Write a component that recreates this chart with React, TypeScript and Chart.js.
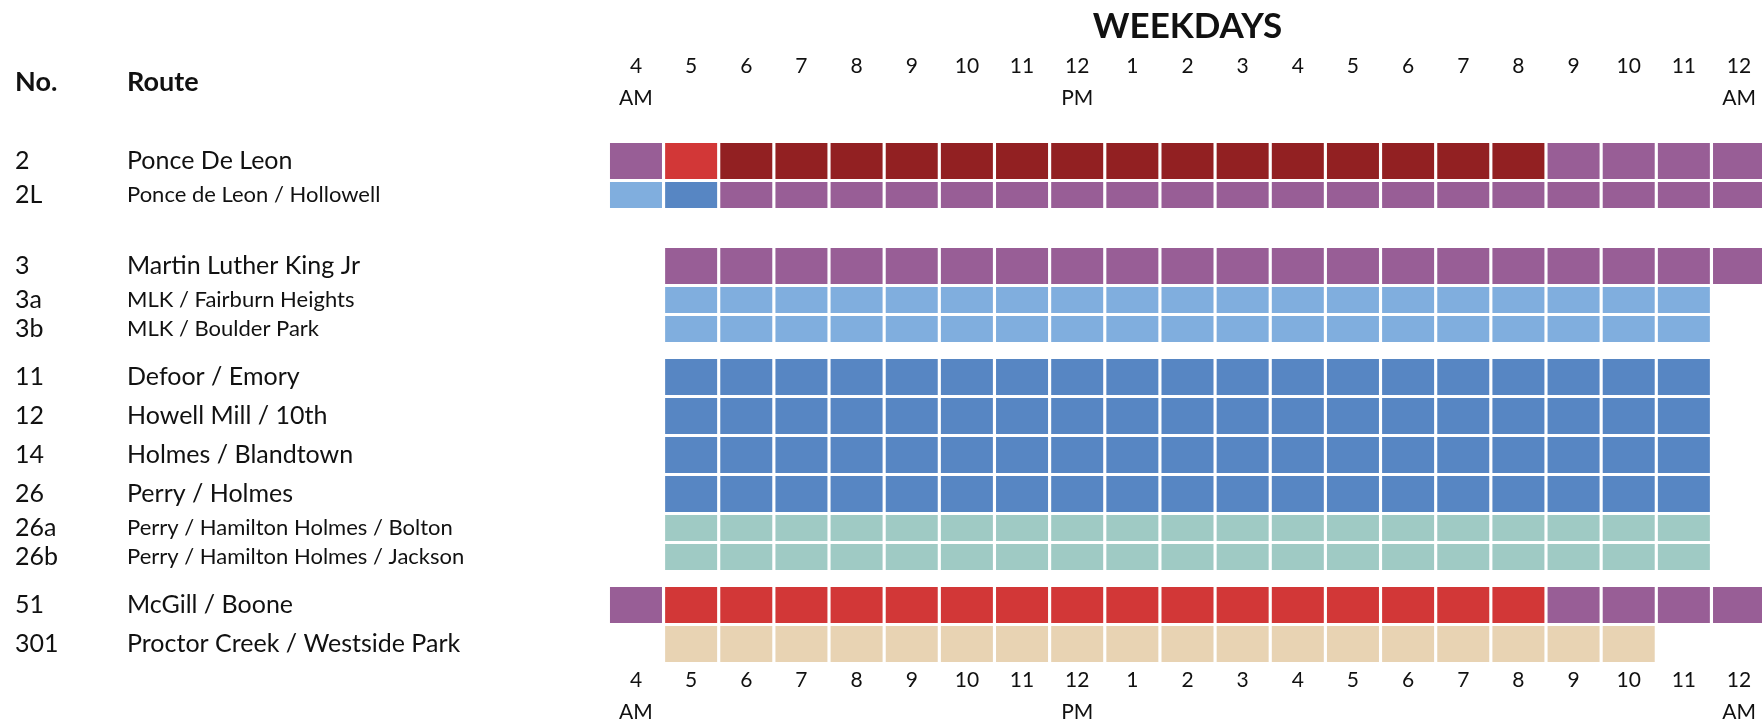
import React, { useEffect, useRef } from "react";
import { Chart, registerables } from "chart.js";

Chart.register(...registerables);

// ---------- DATA ----------
const TITLE = "WEEKDAYS";
const HEADER_NUMBER = "No.";
const HEADER_ROUTE = "Route";

// hour columns (4 AM .. 12 AM)
const HOUR_LABELS = ["4", "5", "6", "7", "8", "9", "10", "11", "12", "1", "2", "3", "4", "5", "6", "7", "8", "9", "10", "11", "12"];
const HOUR_PERIODS = ["AM", "", "", "", "", "", "", "", "PM", "", "", "", "", "", "", "", "", "", "", "", "AM"];

const ROUTE_NUMBERS = ["2", "2L", "3", "3a", "3b", "11", "12", "14", "26", "26a", "26b", "51", "301"];
const ROUTE_NAMES = [
  "Ponce De Leon",
  "Ponce de Leon / Hollowell",
  "Martin Luther King Jr",
  "MLK / Fairburn Heights",
  "MLK / Boulder Park",
  "Defoor / Emory",
  "Howell Mill / 10th",
  "Holmes / Blandtown",
  "Perry / Holmes",
  "Perry / Hamilton Holmes / Bolton",
  "Perry / Hamilton Holmes / Jackson",
  "McGill / Boone",
  "Proctor Creek / Westside Park",
];
// branch routes are drawn as thinner rows
const ROUTE_IS_BRANCH = [false, true, false, true, true, false, false, false, false, true, true, false, false];
// route groups (blank space between groups)
const ROUTE_GROUP = [0, 0, 1, 1, 1, 2, 2, 2, 2, 2, 2, 3, 3];

// service level per hour; "-" = no service
// V = dark red, F = red, S = purple, L = light blue, B = blue, T = teal, N = tan
const SERVICE_2 = ["S", "F", "V", "V", "V", "V", "V", "V", "V", "V", "V", "V", "V", "V", "V", "V", "V", "S", "S", "S", "S"];
const SERVICE_2L = ["L", "B", "S", "S", "S", "S", "S", "S", "S", "S", "S", "S", "S", "S", "S", "S", "S", "S", "S", "S", "S"];
const SERVICE_3 = ["-", "S", "S", "S", "S", "S", "S", "S", "S", "S", "S", "S", "S", "S", "S", "S", "S", "S", "S", "S", "S"];
const SERVICE_3A = ["-", "L", "L", "L", "L", "L", "L", "L", "L", "L", "L", "L", "L", "L", "L", "L", "L", "L", "L", "L", "-"];
const SERVICE_3B = ["-", "L", "L", "L", "L", "L", "L", "L", "L", "L", "L", "L", "L", "L", "L", "L", "L", "L", "L", "L", "-"];
const SERVICE_11 = ["-", "B", "B", "B", "B", "B", "B", "B", "B", "B", "B", "B", "B", "B", "B", "B", "B", "B", "B", "B", "-"];
const SERVICE_12 = ["-", "B", "B", "B", "B", "B", "B", "B", "B", "B", "B", "B", "B", "B", "B", "B", "B", "B", "B", "B", "-"];
const SERVICE_14 = ["-", "B", "B", "B", "B", "B", "B", "B", "B", "B", "B", "B", "B", "B", "B", "B", "B", "B", "B", "B", "-"];
const SERVICE_26 = ["-", "B", "B", "B", "B", "B", "B", "B", "B", "B", "B", "B", "B", "B", "B", "B", "B", "B", "B", "B", "-"];
const SERVICE_26A = ["-", "T", "T", "T", "T", "T", "T", "T", "T", "T", "T", "T", "T", "T", "T", "T", "T", "T", "T", "T", "-"];
const SERVICE_26B = ["-", "T", "T", "T", "T", "T", "T", "T", "T", "T", "T", "T", "T", "T", "T", "T", "T", "T", "T", "T", "-"];
const SERVICE_51 = ["S", "F", "F", "F", "F", "F", "F", "F", "F", "F", "F", "F", "F", "F", "F", "F", "F", "S", "S", "S", "S"];
const SERVICE_301 = ["-", "N", "N", "N", "N", "N", "N", "N", "N", "N", "N", "N", "N", "N", "N", "N", "N", "N", "N", "-", "-"];

const ROUTE_SERVICE = [
  SERVICE_2, SERVICE_2L, SERVICE_3, SERVICE_3A, SERVICE_3B, SERVICE_11, SERVICE_12,
  SERVICE_14, SERVICE_26, SERVICE_26A, SERVICE_26B, SERVICE_51, SERVICE_301,
];

// ---------- STYLE ----------
const LEVEL_COLORS: Record<string, string> = {
  V: "#922022",
  F: "#D23737",
  S: "#985E96",
  L: "#80AEDE",
  B: "#5786C3",
  T: "#9FCAC4",
  N: "#E8D3B3",
};
const FONT = "Lato, 'Noto Sans', sans-serif";
const TEXT_COLOR = "#111111";

const CANVAS_W = 1800;
const CANVAS_H = 719;
const PLOT_LEFT = 608.4;
const PLOT_RIGHT = 1766.6;
const PLOT_TOP = 143;
const PLOT_BOTTOM = 662;
const MAIN_ROW_H = 36;
const BRANCH_ROW_H = 26;
const ROW_GAP = 3;
const GROUP_GAPS = [40, 17, 17];

// row layout in y-units (one unit per pixel of the plot area)
function buildRows() {
  const rows: { top: number; bottom: number }[] = [];
  let y = 0;
  for (let i = 0; i < ROUTE_NUMBERS.length; i++) {
    if (i > 0) {
      y += ROUTE_GROUP[i] !== ROUTE_GROUP[i - 1] ? GROUP_GAPS[ROUTE_GROUP[i - 1]] : ROW_GAP;
    }
    const h = ROUTE_IS_BRANCH[i] ? BRANCH_ROW_H : MAIN_ROW_H;
    rows.push({ top: y, bottom: y + h });
    y += h;
  }
  return { rows, total: y };
}

export default function App() {
  const canvasRef = useRef<HTMLCanvasElement | null>(null);

  useEffect(() => {
    const canvas = canvasRef.current;
    if (!canvas) return;
    const { rows, total } = buildRows();
    const labels = HOUR_LABELS.map((h, i) => [h, HOUR_PERIODS[i] || " "]);

    const datasets = ROUTE_NUMBERS.map((num, r) => ({
      label: num,
      data: ROUTE_SERVICE[r].map((c) => (c === "-" ? null : [rows[r].top, rows[r].bottom])),
      backgroundColor: ROUTE_SERVICE[r].map((c) => LEVEL_COLORS[c] || "rgba(0,0,0,0)"),
      borderWidth: 0,
      grouped: false,
      categoryPercentage: 1,
      barPercentage: 52 / 55.15,
    }));

    const textPlugin = {
      id: "routeText",
      afterDraw(chart: any) {
        const ctx = chart.ctx;
        const area = chart.chartArea;
        const yScale = chart.scales.y;
        ctx.save();
        ctx.fillStyle = TEXT_COLOR;
        ctx.textBaseline = "middle";
        ctx.textAlign = "center";
        ctx.font = `bold 35px ${FONT}`;
        ctx.fillText(TITLE, (area.left + area.right) / 2, 27);
        ctx.textAlign = "left";
        ctx.font = `bold 27px ${FONT}`;
        ctx.fillText(HEADER_NUMBER, 15, 82);
        ctx.fillText(HEADER_ROUTE, 127, 82);
        for (let i = 0; i < ROUTE_NUMBERS.length; i++) {
          const yc = yScale.getPixelForValue((rows[i].top + rows[i].bottom) / 2);
          ctx.font = `25px ${FONT}`;
          ctx.fillText(ROUTE_NUMBERS[i], 15, yc);
          ctx.font = ROUTE_IS_BRANCH[i] ? `22px ${FONT}` : `25px ${FONT}`;
          ctx.fillText(ROUTE_NAMES[i], 127, yc);
        }
        ctx.restore();
      },
    };

    const tickFont = { family: FONT, size: 21, lineHeight: 1.52 };

    const chart = new Chart(canvas, {
      type: "bar",
      data: { labels, datasets: datasets as any },
      options: {
        animation: false,
        responsive: false,
        devicePixelRatio: 1,
        layout: { padding: { left: PLOT_LEFT, right: CANVAS_W - PLOT_RIGHT, top: 0, bottom: 0 } },
        plugins: { legend: { display: false }, title: { display: false }, tooltip: { enabled: false } },
        scales: {
          x: {
            type: "category",
            position: "bottom",
            offset: true,
            grid: { display: false },
            border: { display: false },
            ticks: { font: tickFont, color: TEXT_COLOR, padding: -6, autoSkip: false, maxRotation: 0 },
            afterFit: (s: any) => { s.height = CANVAS_H - PLOT_BOTTOM; },
          },
          xTop: {
            type: "category",
            position: "top",
            offset: true,
            grid: { display: false },
            border: { display: false },
            ticks: { font: tickFont, color: TEXT_COLOR, padding: 21, autoSkip: false, maxRotation: 0 },
            afterFit: (s: any) => { s.height = PLOT_TOP; },
          },
          y: {
            type: "linear",
            display: false,
            reverse: true,
            min: 0,
            max: total,
          },
        },
      } as any,
      plugins: [textPlugin],
    });
    return () => chart.destroy();
  }, []);

  return (
    <div style={{ position: "fixed", left: 0, top: 0, width: 1762, height: 719, overflow: "hidden", background: "#fff" }}>
      <canvas ref={canvasRef} width={CANVAS_W} height={CANVAS_H} style={{ display: "block", width: CANVAS_W, height: CANVAS_H }} />
    </div>
  );
}
